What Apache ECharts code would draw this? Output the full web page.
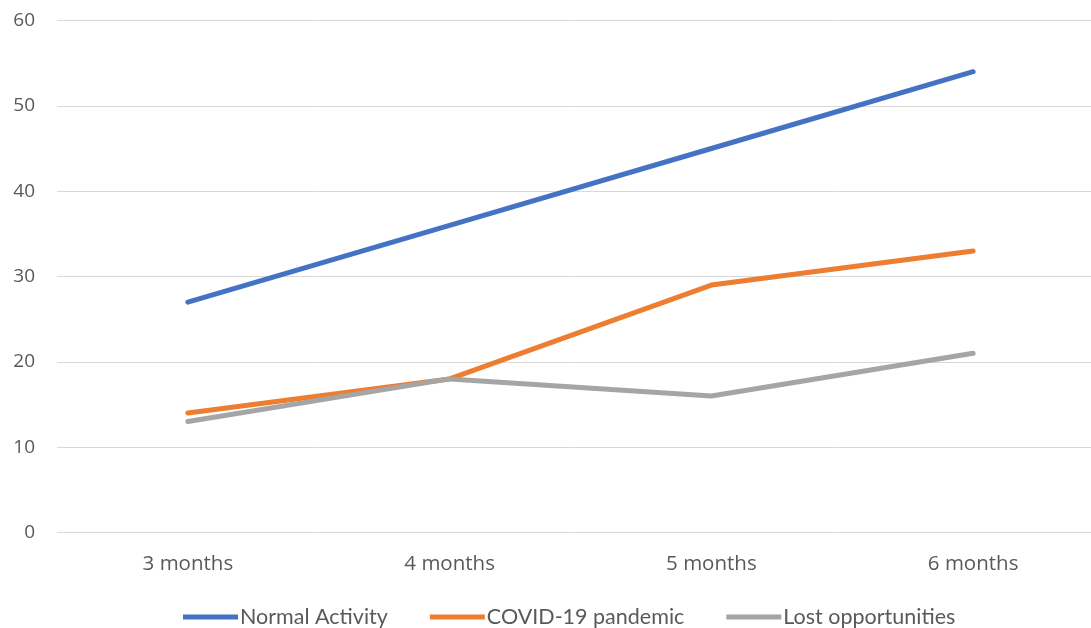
<!DOCTYPE html>
<html>
<head>
<meta charset="utf-8">
<script src="https://cdn.jsdelivr.net/npm/echarts@6/dist/echarts.min.js"></script>
<style>
  html, body { margin: 0; padding: 0; background: #fff; }
  #chart { width: 1091px; height: 628px; }
</style>
</head>
<body>
<div id="chart"></div>
<script>
// Category labels along the x axis
const categories = ['3 months', '4 months', '5 months', '6 months'];

// Series values
const normalActivity = [27, 36, 45, 54];
const covidPandemic = [14, 18, 29, 33];
const lostOpportunities = [13, 18, 16, 21];

const seriesNames = ['Normal Activity', 'COVID-19 pandemic', 'Lost opportunities'];
const seriesColors = ['#4472C4', '#ED7D31', '#A5A5A5'];

const labelFont = '"Open Sans", "DejaVu Sans", sans-serif';
const legendFont = 'Lato, "Open Sans", sans-serif';

const chart = echarts.init(document.getElementById('chart'));

function lineSeries(name, data, color) {
  return {
    name: name,
    type: 'line',
    data: data,
    symbol: 'none',
    smooth: false,
    lineStyle: { color: color, width: 5, cap: 'round', join: 'round' },
    itemStyle: { color: color },
    emphasis: { disabled: true }
  };
}

chart.setOption({
  animation: false,
  backgroundColor: '#ffffff',
  // plot area runs slightly past the right edge of the canvas
  grid: {
    left: 57, width: 1047, top: 20.5, bottom: 95.5,
    containLabel: false, outerBoundsMode: 'none'
  },
  xAxis: {
    type: 'category',
    data: categories,
    boundaryGap: true,
    axisLine: { show: false },
    axisTick: { show: false },
    axisLabel: { color: '#595959', fontSize: 20.5, fontFamily: labelFont, margin: 21 }
  },
  yAxis: {
    type: 'value',
    min: 0,
    max: 60,
    interval: 10,
    axisLine: { show: false },
    axisTick: { show: false },
    splitLine: { lineStyle: { color: '#d9d9d9', width: 1 } },
    axisLabel: { color: '#595959', fontSize: 19, fontFamily: labelFont, margin: 22 }
  },
  legend: {
    data: seriesNames,
    top: 601,
    left: 178,
    icon: 'rect',
    itemWidth: 55,
    itemHeight: 5,
    itemGap: 42,
    textStyle: { color: '#595959', fontSize: 21.5, fontFamily: legendFont, padding: [0, 0, 0, -3] }
  },
  series: [
    lineSeries(seriesNames[0], normalActivity, seriesColors[0]),
    lineSeries(seriesNames[1], covidPandemic, seriesColors[1]),
    lineSeries(seriesNames[2], lostOpportunities, seriesColors[2])
  ]
});
</script>
</body>
</html>
